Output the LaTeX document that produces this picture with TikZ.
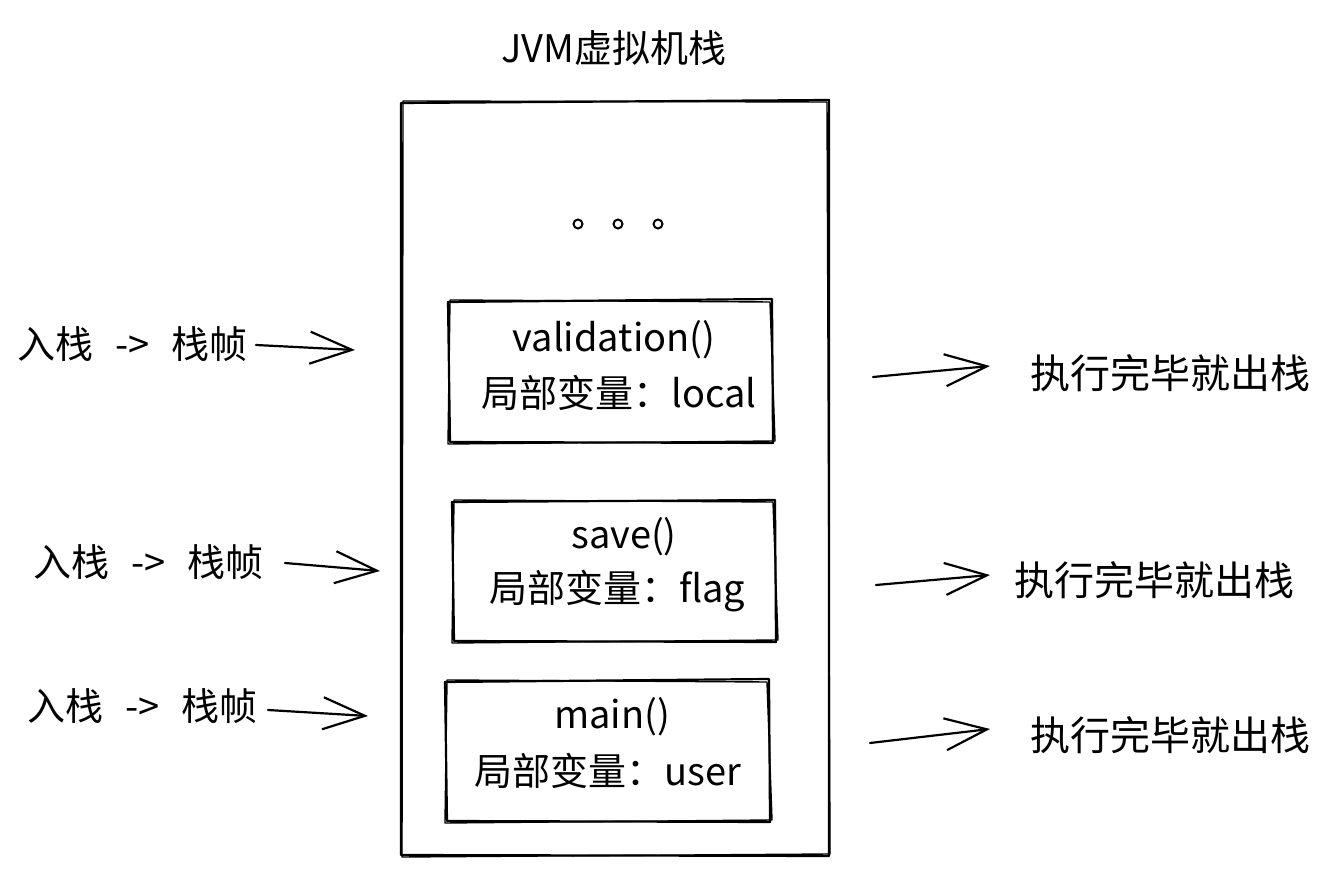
\documentclass[tikz,border=0pt]{standalone}
\usepackage{fontspec}
\setmainfont{Noto Sans CJK SC}
\usetikzlibrary{arrows.meta}
\tikzset{
  sk/.style={line width=1.1pt, line join=round, line cap=round},
  txt/.style={inner sep=0pt, font=\fontsize{19}{23}\selectfont},
  rtxt/.style={inner sep=0pt, font=\fontsize{20}{24}\selectfont},
  arr/.style={sk, -{Straight Barb[length=21pt,width=16pt,line width=1.1pt]}},
}
\newcommand{\inlabel}{入栈\hspace{11pt}->\hspace{11pt}栈帧}
\begin{document}
\begin{tikzpicture}[x=0.5pt,y=-0.5pt]
\useasboundingbox[fill=white] (0,0) rectangle (1334,876);
% title
\node[txt] (title) at (614,48) {JVM虚拟机栈};
% outer stack
\draw[sk] (401,103) -- (829,100) -- (829,856) -- (401,855) -- cycle;
\draw[sk, line width=0.7pt] (403,101) -- (827,102) -- (830,854) -- (402,857) -- cycle;
\node[txt] (dots) at (618,224) {\tikz[baseline]{\foreach \i in {0,1,2}{\draw[line width=1pt] (\i*40pt/2,0) circle[radius=4.5];}}};
% frames
\node[inner sep=0pt, minimum width=162.5pt, minimum height=71.5pt] (f1) at (610.5,371.5) {};
\draw[sk] (448,302) -- (772,299) -- (773,443) -- (450,442) -- cycle;
\draw[sk, line width=0.7pt] (450,300) -- (770,302) -- (775,441) -- (448,444) -- cycle;
\node[txt] (f1a) at (614,340) {validation()};
\node[txt] (f1b) at (619,393) {局部变量：local};

\node[inner sep=0pt, minimum width=162pt, minimum height=71pt] (f2) at (614,571) {};
\draw[sk] (452,502) -- (775,500) -- (776,642) -- (454,641) -- cycle;
\draw[sk, line width=0.7pt] (454,500) -- (773,502) -- (778,640) -- (452,643) -- cycle;
\node[txt] (f2a) at (624,537) {save()};
\node[txt] (f2b) at (617,591) {局部变量：flag};

\node[inner sep=0pt, minimum width=162.5pt, minimum height=71pt] (f3) at (607.5,751) {};
\draw[sk] (445,682) -- (769,679) -- (770,822) -- (447,821) -- cycle;
\draw[sk, line width=0.7pt] (447,680) -- (767,682) -- (772,820) -- (445,823) -- cycle;
\node[txt] (f3a) at (612,717) {main()};
\node[txt] (f3b) at (608,771) {局部变量：user};

% left labels and arrows
\node[txt, anchor=west] (l1) at (17,344) {\inlabel};
\node[txt, anchor=west] (l2) at (33,562) {\inlabel};
\node[txt, anchor=west] (l3) at (27,706) {\inlabel};
\coordinate (l1s) at (256,345);
\coordinate (l2s) at (285,563);
\coordinate (l3s) at (268,710);
\coordinate (l1e) at (355,350);
\coordinate (l2e) at (380,571);
\coordinate (l3e) at (368,716);
\draw[arr] (l1s) -- (l1e);
\draw[arr] (l2s) -- (l2e);
\draw[arr] (l3s) -- (l3e);

% right labels and arrows
\node[rtxt, anchor=west] (r1) at (1030,373) {执行完毕就出栈};
\node[rtxt, anchor=west] (r2) at (1014,580) {执行完毕就出栈};
\node[rtxt, anchor=west] (r3) at (1030,735) {执行完毕就出栈};
\coordinate (r1s) at (873,377);
\coordinate (r2s) at (876,585);
\coordinate (r3s) at (870,743);
\coordinate (r1e) at (990,366);
\coordinate (r2e) at (990,575);
\coordinate (r3e) at (990,729);
\draw[arr] (r1s) -- (r1e);
\draw[arr] (r2s) -- (r2e);
\draw[arr] (r3s) -- (r3e);
\end{tikzpicture}
\end{document}
